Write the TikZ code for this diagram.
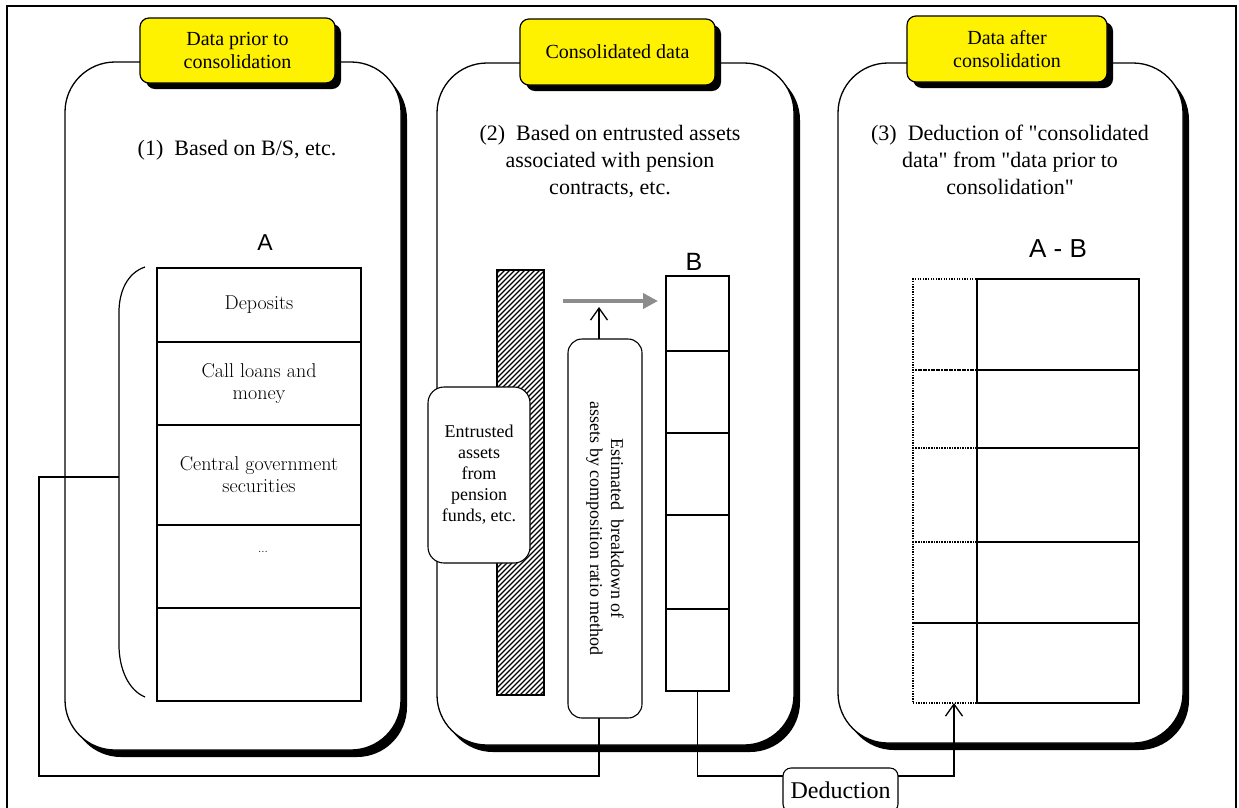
\documentclass[tikz,border=0pt]{standalone}
\usepackage{fontspec}
\newfontfamily\tnr{Liberation Serif}
\newfontfamily\arialf{Liberation Sans}
\usetikzlibrary{shadows,arrows.meta}
\begin{document}
\begin{tikzpicture}[x=1pt,y=-1pt,
  panel/.style={draw, line width=1.3pt, fill=white, rounded corners=50pt, inner sep=0pt, outer sep=0pt,
    drop shadow={shadow xshift=6pt,shadow yshift=-7pt,fill=black,opacity=1}},
  header/.style={draw, line width=1.2pt, fill=yellow, rounded corners=9pt, inner sep=0pt, outer sep=0pt,
    align=center, font=\tnr\fontsize{20}{23}\selectfont,
    drop shadow={shadow xshift=6pt,shadow yshift=-6pt,fill=black,opacity=1}},
  body/.style={align=center, font=\tnr\fontsize{22}{27}\selectfont, inner sep=0pt},
  lbl/.style={font=\arialf\fontsize{23}{26}\selectfont, inner sep=0pt},
  cell/.style={draw, line width=1.1pt, inner sep=0pt, outer sep=0pt, align=center,
    font=\fontsize{20}{22}\selectfont},
  dcell/.style={draw, line width=1.3pt, dash pattern=on 1.3pt off 1.3pt, inner sep=0pt, outer sep=0pt},
  rbox/.style={draw, line width=1.1pt, fill=white, rounded corners=16pt, inner sep=0pt, outer sep=0pt,
    align=center, font=\tnr\fontsize{18}{21}\selectfont},
  conn/.style={draw, line width=1.3pt},
  barb/.style={-{Straight Barb[length=12pt,width=17pt]}}
]
\useasboundingbox (0,0) rectangle (1239,807);
% outer frame
\draw[line width=1.6pt] (7,815) -- (7,6) -- (1236,6) -- (1236,815);

% panels
\node[panel, minimum width=336pt, minimum height=688pt] (p1) at (233,406) {};
\node[panel, minimum width=357pt, minimum height=682pt] (p2) at (615.5,404) {};
\node[panel, minimum width=345pt, minimum height=680pt] (p3) at (1010.5,403) {};

% headers
\node[header, minimum width=195pt, minimum height=65pt] (h1) at (237.5,50.5) {Data prior to\\consolidation};
\node[header, minimum width=195pt, minimum height=66pt] (h2) at (617.5,52) {Consolidated data};
\node[header, minimum width=200pt, minimum height=66pt] (h3) at (1007,49) {Data after\\consolidation};

% panel titles
\node[body] (t1) at (237,150) {(1)\ \ Based on B/S, etc.};
\node[body] (t2) at (610,162) {(2)\ \ Based on entrusted assets\\associated with pension\\contracts, etc.};
\node[body] (t3) at (1010,160) {(3)\ \ Deduction of "consolidated\\data" from "data prior to\\consolidation"};

\node[lbl] (la) at (265,243) {A};
\node[lbl, font=\arialf\fontsize{25}{28}\selectfont] (lb) at (694,262) {B};
\node[lbl, font=\arialf\fontsize{26}{29}\selectfont] (lab) at (1058,249) {A - B};

% table A
\node[cell, minimum width=204pt, minimum height=74pt] (a1) at (259,305) {Deposits};
\node[cell, minimum width=204pt, minimum height=83pt] (a2) at (259,383.5) {Call loans and\\money};
\node[cell, minimum width=204pt, minimum height=100pt] (a3) at (259,475) {Central government\\securities};
\node[cell, minimum width=204pt, minimum height=83pt] (a4) at (259,566.5) {};
\node[cell, minimum width=204pt, minimum height=93pt] (a5) at (259,654.5) {};
\node[font=\fontsize{12}{14}\selectfont, inner sep=0pt] (dots) at (263,552) {...};

% brace
\draw[line width=1.2pt] (145,267) .. controls (127,273) and (119,292) .. (119,312) -- (119,645)
  .. controls (119,668) and (128,690) .. (145,697);
\coordinate (brc) at (119,477);

% hatched bar
\begin{scope}
  \clip (497,270) rectangle (544,695);
  \foreach \x in {60,65,...,550} \draw[line width=1.3pt] (\x,700) -- ++(440,-440);
\end{scope}
\draw[line width=2.5pt] (497,270) rectangle (544,695);

% entrusted box
\node[rbox, minimum width=102pt, minimum height=176pt] (ent) at (479,475) {Entrusted\\assets\\from\\pension\\funds, etc.};

% estimated box
\node[rbox, fill=white, minimum width=74pt, minimum height=379pt, rounded corners=14pt] (estbox) at (605,528.5) {};
\node[rotate=-90, align=center, font=\tnr\fontsize{18}{21}\selectfont, inner sep=0pt] (esttxt) at (estbox.center)
  {Estimated\ \ breakdown of\\assets by composition ratio method};

% gray arrow
\coordinate (ga1) at (563,301);
\coordinate (ga2) at (658,301);
\draw[line width=4.5pt, color={rgb,255:red,140;green,140;blue,140}, -{Triangle[length=15pt,width=15pt]}] (ga1) -- (ga2);
\draw[conn, barb] ([xshift=-6pt]estbox.north) -- ++(0,-32);

% table B
\node[cell, minimum width=63pt, minimum height=75pt] (b1) at (697.5,313.5) {};
\node[cell, minimum width=63pt, minimum height=82pt] (b2) at (697.5,392) {};
\node[cell, minimum width=63pt, minimum height=82pt] (b3) at (697.5,474) {};
\node[cell, minimum width=63pt, minimum height=94pt] (b4) at (697.5,562) {};
\node[cell, minimum width=63pt, minimum height=82pt] (b5) at (697.5,650) {};

% table A-B
\node[dcell, minimum width=64pt, minimum height=91pt] (d1) at (945,324.5) {};
\node[dcell, minimum width=64pt, minimum height=78pt] (d2) at (945,409) {};
\node[dcell, minimum width=64pt, minimum height=94pt] (d3) at (945,495) {};
\node[dcell, minimum width=64pt, minimum height=81pt] (d4) at (945,582.5) {};
\node[dcell, minimum width=64pt, minimum height=80pt] (d5) at (945,663) {};
\node[cell, minimum width=162pt, minimum height=91pt] (c1) at (1058,324.5) {};
\node[cell, minimum width=162pt, minimum height=78pt] (c2) at (1058,409) {};
\node[cell, minimum width=162pt, minimum height=94pt] (c3) at (1058,495) {};
\node[cell, minimum width=162pt, minimum height=81pt] (c4) at (1058,582.5) {};
\node[cell, minimum width=162pt, minimum height=80pt] (c5) at (1058,663) {};

% deduction
\node[rbox, rounded corners=8pt, minimum width=115pt, minimum height=44pt, font=\tnr\fontsize{24}{26}\selectfont] (ded) at (840.5,790) {Deduction};

% connectors
\draw[conn] (brc) -| (39,776) -| ([xshift=-6pt]estbox.south);
\draw[conn] (b5.south) |- ([yshift=14pt]ded.west);
\draw[conn, barb] ([yshift=14pt]ded.east) -| ([xshift=9pt]d5.south);
\end{tikzpicture}
\end{document}
